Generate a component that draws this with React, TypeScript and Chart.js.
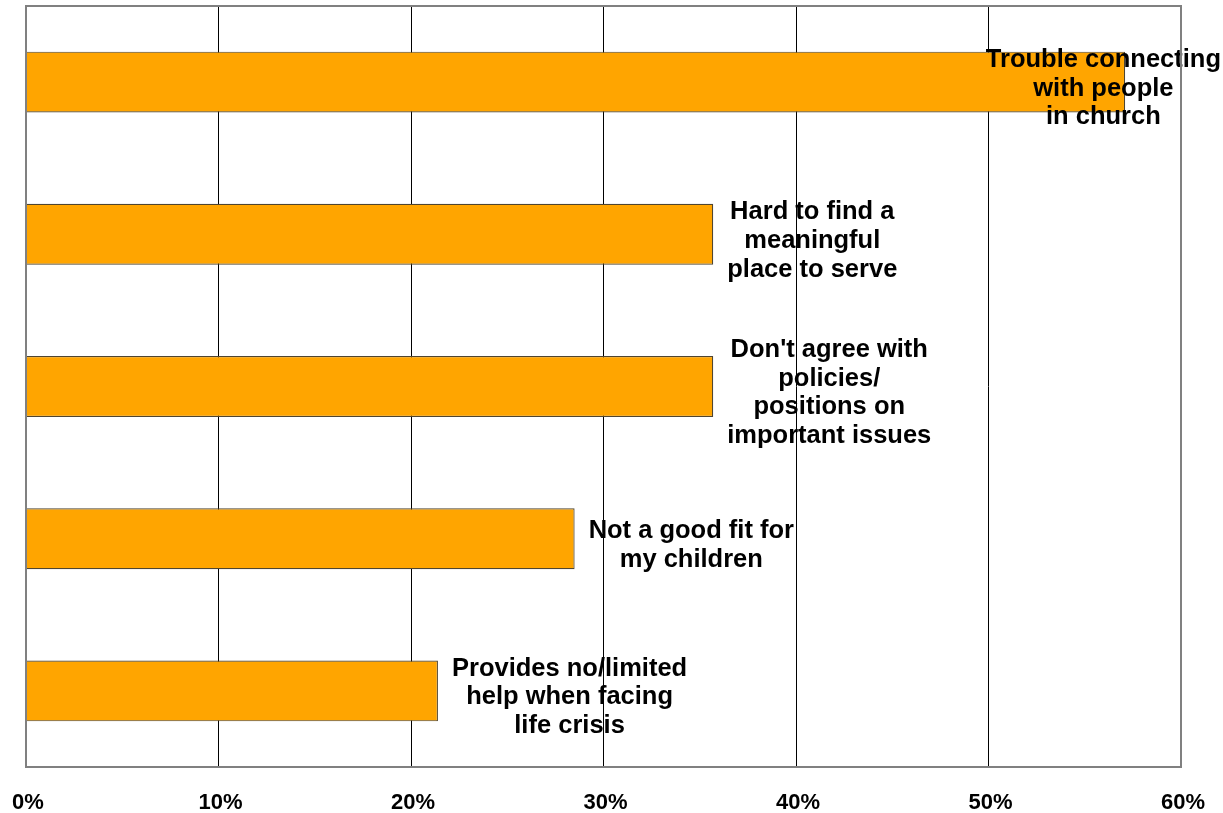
import React, { useEffect, useRef } from "react";
import { Chart, registerables } from "chart.js";

Chart.register(...registerables);

const categories: string[][] = [
  ["Trouble connecting", "with people", "in church"],
  ["Hard to find a", "meaningful", "place to serve"],
  ["Don't agree with", "policies/", "positions on", "important issues"],
  ["Not a good fit for", "my children"],
  ["Provides no/limited", "help when facing", "life crisis"],
];
const values: number[] = [57.1, 35.7, 35.7, 28.5, 21.4];
const tickValues: number[] = [0, 10, 20, 30, 40, 50, 60];

const FONT = "'Liberation Sans', Arial, sans-serif";

const labelPlugin = {
  id: "barLabels",
  afterDatasetsDraw(chart: any) {
    const { ctx } = chart;
    const meta = chart.getDatasetMeta(0);
    ctx.save();
    ctx.font = `bold 25.5px ${FONT}`;
    ctx.fillStyle = "#000";
    ctx.textAlign = "center";
    ctx.textBaseline = "middle";
    const lh = 28.7;
    meta.data.forEach((bar: any, i: number) => {
      const lines = categories[i];
      const w = Math.max(...lines.map((l) => ctx.measureText(l).width));
      let left = bar.x + 14;
      if (left + w > chart.width - 2) left = chart.width - 2 - w;
      const cx = left + w / 2;
      const top = bar.y + 6.5 - ((lines.length - 1) * lh) / 2;
      lines.forEach((l, k) => ctx.fillText(l, cx, top + k * lh));
    });
    ctx.restore();
  },
};

const tickPlugin = {
  id: "tickLabels",
  afterDraw(chart: any) {
    const { ctx } = chart;
    const x = chart.scales.x;
    ctx.save();
    ctx.font = `bold 22px ${FONT}`;
    ctx.fillStyle = "#000";
    ctx.textAlign = "center";
    ctx.textBaseline = "middle";
    tickValues.forEach((v) => ctx.fillText(`${v}%`, x.getPixelForValue(v) + 2, 803));
    ctx.restore();
  },
};

const framePlugin = {
  id: "frame",
  afterDraw(chart: any) {
    const { ctx, chartArea: a } = chart;
    ctx.save();
    ctx.strokeStyle = "#808080";
    ctx.lineWidth = 2;
    ctx.strokeRect(a.left, a.top, a.right - a.left, a.bottom - a.top);
    ctx.restore();
  },
};

export default function App() {
  const ref = useRef<HTMLCanvasElement>(null);
  useEffect(() => {
    document.body.style.margin = "0";
    const chart = new Chart(ref.current!, {
      type: "bar",
      data: {
        labels: categories.map((c) => c.join(" ")),
        datasets: [
          {
            data: values,
            backgroundColor: "#FFA500",
            borderColor: "#4f4530",
            borderWidth: 1.2,
            barPercentage: 0.8,
            categoryPercentage: 0.5,
          },
        ],
      },
      options: {
        indexAxis: "y",
        animation: false,
        responsive: false,
        devicePixelRatio: 1,
        layout: { padding: { left: 26, right: 42, top: 6, bottom: 46 } },
        plugins: { legend: { display: false }, tooltip: { enabled: false } },
        scales: {
          x: {
            min: 0,
            max: 60,
            afterBuildTicks: (axis: any) => {
              axis.ticks = tickValues.map((v) => ({ value: v }));
            },
            ticks: { display: false },
            grid: { color: "#000", lineWidth: 1, drawTicks: false },
            border: { display: false },
          },
          y: { display: false },
        },
      },
      plugins: [labelPlugin, framePlugin, tickPlugin],
    });
    return () => chart.destroy();
  }, []);
  return (
    <div style={{ position: "fixed", left: 0, top: 0, width: 1223, height: 813, background: "#fff" }}>
      <canvas ref={ref} width={1223} height={813} />
    </div>
  );
}
